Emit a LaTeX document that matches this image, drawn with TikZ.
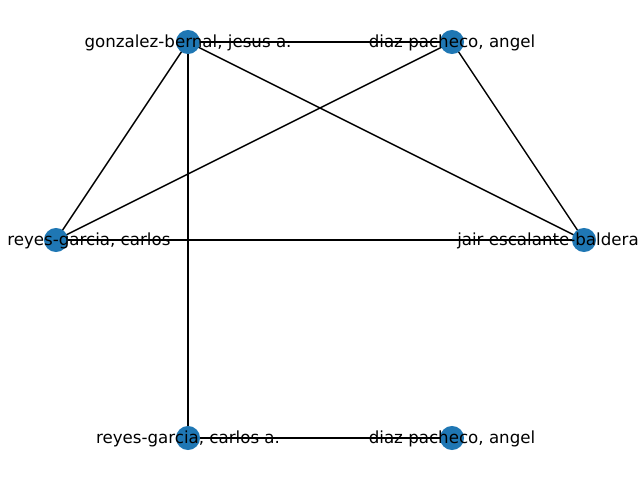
\documentclass[tikz,border=0pt]{standalone}
\usepackage{fontspec}
\setmainfont{DejaVu Sans}
\definecolor{nxblue}{HTML}{1F77B4}
\tikzset{
  author/.style={circle, fill=nxblue, minimum size=17.3pt, inner sep=0pt},
  authorname/.style={font=\fontsize{12pt}{14pt}\selectfont, text=black, inner sep=0pt, yshift=-1pt},
  link/.style={black, line width=1pt}
}
\begin{document}
\begin{tikzpicture}[x=0.72pt, y=0.72pt]
	\useasboundingbox (0,0) rectangle (640,480);
	\clip (0,0) rectangle (640,480);
	% positions of the authors
	\coordinate (gonzalez) at (188,438);
	\coordinate (diaztop) at (452,438);
	\coordinate (reyes) at (56,240);
	\coordinate (jair) at (584,240);
	\coordinate (reyesa) at (188,42);
	\coordinate (diazbot) at (452,42);
	% co-authorship links
	\draw[link] (gonzalez) -- (diaztop);
	\draw[link] (gonzalez) -- (reyes);
	\draw[link] (gonzalez) -- (jair);
	\draw[link] (gonzalez) -- (reyesa);
	\draw[link] (diaztop) -- (reyes);
	\draw[link] (diaztop) -- (jair);
	\draw[link] (reyes) -- (jair);
	\draw[link] (reyesa) -- (diazbot);
	% dots
	\node[author] (gonzalezdot) at (gonzalez) {};
	\node[author] (diaztopdot) at (diaztop) {};
	\node[author] (reyesdot) at (reyes) {};
	\node[author] (jairdot) at (jair) {};
	\node[author] (reyesadot) at (reyesa) {};
	\node[author] (diazbotdot) at (diazbot) {};
	% names
	\node[authorname] (gonzalezlbl) at (gonzalez) {gonzalez-bernal, jesus a.};
	\node[authorname] (diaztoplbl) at (diaztop) {diaz pacheco, angel};
	\node[authorname, anchor=west] (reyeslbl) at (7,240) {reyes-garcia, carlos};
	\node[authorname, anchor=east] (jairlbl) at (639,240) {jair escalante-baldera};
	\node[authorname] (reyesalbl) at (reyesa) {reyes-garcia, carlos a.};
	\node[authorname] (diazbotlbl) at (diazbot) {diaz pacheco, angel};
\end{tikzpicture}
\end{document}
